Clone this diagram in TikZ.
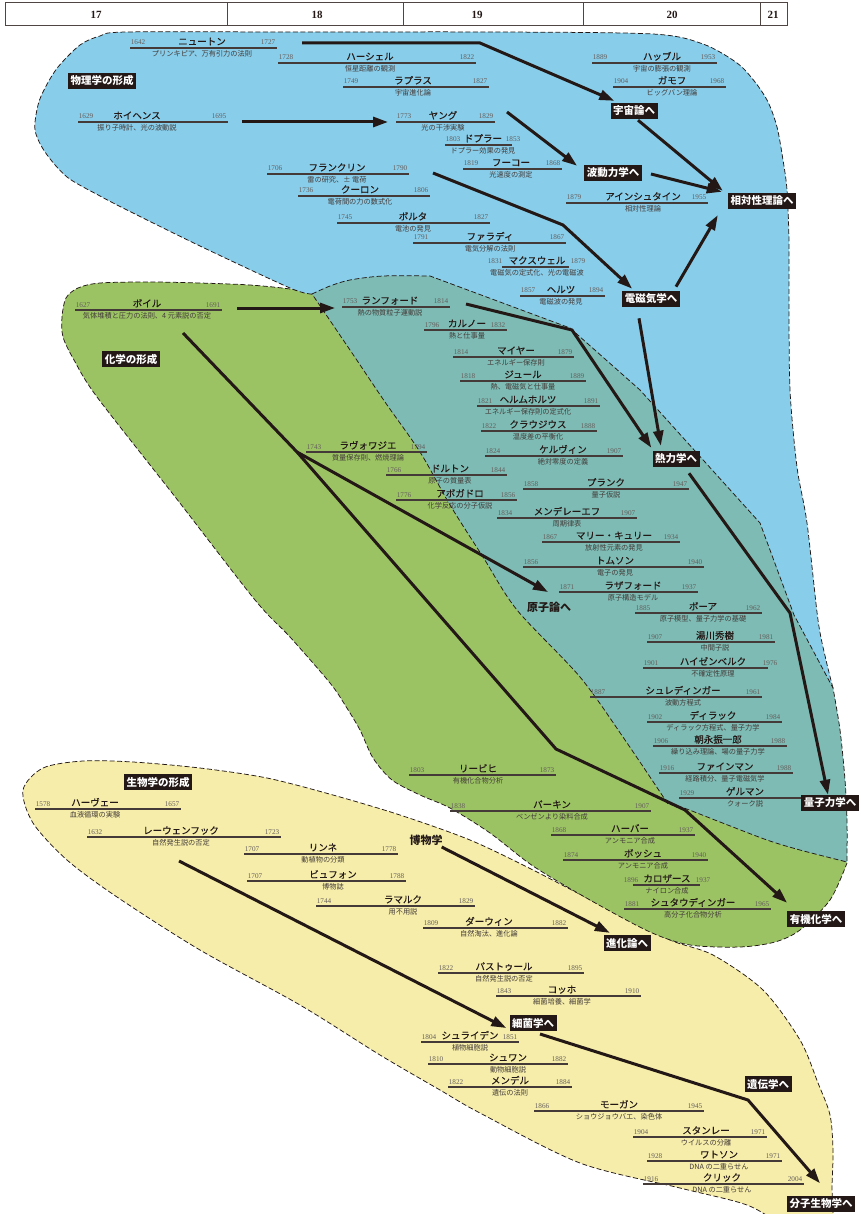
\documentclass[tikz,border=0pt]{standalone}
\usepackage{fontspec}
\usetikzlibrary{arrows.meta,calc}
\newfontfamily\jpfont{Noto Sans CJK JP}
\newfontfamily\jpname[FakeBold=0.3]{Noto Sans CJK JP}
\newfontfamily\yrfont{Liberation Serif}
\definecolor{ink}{HTML}{231815}
\definecolor{cblue}{HTML}{88CDEA}
\definecolor{cgreen}{HTML}{9BC364}
\definecolor{cteal}{HTML}{7DBBB4}
\definecolor{cyel}{HTML}{F5EDA9}
\tikzset{
  uline/.style={draw=ink!85, line width=1.2pt},
  nm/.style={anchor=base, inner sep=0pt, text=ink, font=\jpname\fontsize{9.5}{10}\selectfont},
  ds/.style={anchor=base, inner sep=0pt, text=ink!85, font=\jpfont\fontsize{7.2}{8}\selectfont},
  yr/.style={anchor=base, inner sep=0pt, text=ink!70, font=\yrfont\fontsize{7.2}{8}\selectfont},
  lbl/.style={fill=ink, text=white, inner xsep=2.5pt, inner ysep=3pt, font=\jpfont\bfseries\fontsize{10.5}{11}\selectfont},
  plainbold/.style={inner sep=0pt, text=ink, font=\jpfont\bfseries\fontsize{11}{12}\selectfont},
  bnd/.style={draw=ink, line width=0.75pt, dash pattern=on 5pt off 2.5pt},
  arr/.style={draw=ink, line width=3pt, -{Triangle[length=15pt,width=10pt]}},
  hdr/.style={draw=ink!80, line width=1pt},
  hdrtxt/.style={inner sep=0pt, text=ink, font=\yrfont\bfseries\fontsize{11}{12}\selectfont},
}
% #1 id, #2 x1, #3 x2, #4 y, #5 name x, #6 name, #7 note, #8 born, #9 died
\newcommand{\lifeline}[9]{%
  \draw[uline] (#2,#4) coordinate (#1-l) -- (#3,#4) coordinate (#1-r);
  \node[nm] (#1) at (#5,#4-3) {#6};
  \node[ds] (#1-d) at (#5,#4+8.8) {#7};
  \node[yr] (#1-b) at (#2+8,#4-3) {#8};
  \node[yr] (#1-e) at (#3-9,#4-3) {#9};
}
\begin{document}
\begin{tikzpicture}[x=1pt,y=-1pt]
\useasboundingbox (0,0) rectangle (861,1214);

% ---------- century header ----------
\draw[hdr] (5,3) rectangle (787,26);
\foreach \cx in {227,403,583,760} \draw[hdr] (\cx,3) -- (\cx,26);
\node[hdrtxt] (c17) at (96,14.5) {17};
\node[hdrtxt] (c18) at (317,14.5) {18};
\node[hdrtxt] (c19) at (477,14.5) {19};
\node[hdrtxt] (c20) at (672,14.5) {20};
\node[hdrtxt] (c21) at (773,14.5) {21};

% ---------- biology region ----------
\path[fill=cyel] plot[smooth cycle] coordinates {(23,790) (43,768) (83,761) (133,762) (200,768) (267,778) (333,795) (400,815) (470,840) (533,870) (610,910) (670,940) (713,955) (763,990) (800,1040) (818,1083) (830,1115) (833,1150) (832,1185) (830,1230) (790,1228) (747,1205) (680,1188) (580,1163) (480,1113) (440,1090) (380,1055) (300,1005) (200,950) (117,897) (67,860) (33,823)};
\path[bnd] plot[smooth cycle] coordinates {(23,790) (43,768) (83,761) (133,762) (200,768) (267,778) (333,795) (400,815) (470,840) (533,870) (610,910) (670,940) (713,955) (763,990) (800,1040) (818,1083) (830,1115) (833,1150) (832,1185) (830,1230) (790,1228) (747,1205) (680,1188) (580,1163) (480,1113) (440,1090) (380,1055) (300,1005) (200,950) (117,897) (67,860) (33,823)};

% ---------- chemistry region ----------
\path[fill=cgreen] plot[smooth] coordinates {(312,294) (290,289) (250,285) (200,283) (150,282) (100,283) (78,288) (66,298) (62,317) (63,337) (74,360) (97,397) (176,498) (255,600) (290,637) (330,683) (345,705) (360,730) (373,758) (392,780) (420,795) (450,808) (490,833) (533,866) (590,900) (650,932) (690,945) (740,947) (775,942) (800,930) (830,900) (847,863)} -- (838,852) -- (800,790) -- (650,640) -- (330,306) -- cycle;
\path[bnd] plot[smooth] coordinates {(312,294) (290,289) (250,285) (200,283) (150,282) (100,283) (78,288) (66,298) (62,317) (63,337) (74,360) (97,397) (176,498) (255,600) (290,637) (330,683) (345,705) (360,730) (373,758) (392,780) (420,795) (450,808) (490,833) (533,866) (590,900) (650,932) (690,945) (740,947) (775,942) (800,930) (830,900) (847,863)};

% ---------- physics region ----------
\path[fill=cblue] plot[smooth] coordinates {(312,294) (290,288) (200,246) (127,210) (100,196) (67,177) (45,152) (35,130) (38,105) (45,88) (58,67) (80,45) (100,36) (127,32) (300,32) (500,32) (653,34) (703,44) (737,63) (755,82) (768,102) (777,127) (783,160) (787,190) (789,240) (789,300) (790,390) (797,467) (807,523) (818,620) (826,660) (833,688)} -- (815,690) -- (700,560) -- (600,380) -- (450,300) -- (330,302) -- cycle;
\path[bnd] plot[smooth] coordinates {(312,294) (290,288) (200,246) (127,210) (100,196) (67,177) (45,152) (35,130) (38,105) (45,88) (58,67) (80,45) (100,36) (127,32) (300,32) (500,32) (653,34) (703,44) (737,63) (755,82) (768,102) (777,127) (783,160) (787,190) (789,240) (789,300) (790,390) (797,467) (807,523) (818,620) (826,660) (833,688)};

% ---------- overlap of physics and chemistry ----------
\path[fill=cteal, bnd] plot[smooth] coordinates {(312,294) (330,286) (350,280) (383,276) (430,276)} -- (570,328) -- (640,390) -- (760,523) -- (794,615) -- plot[smooth] coordinates {(833,688) (840,730) (845,780) (847,820) (847,862)} -- plot[smooth] coordinates {(847,862) (800,850) (767,840) (720,822) (684,808) (668,804)} -- plot[smooth] coordinates {(668,804) (625,740) (580,677) (517,610) (483,557) (450,505) (420,452) (385,402) (350,350) (312,294)} -- cycle;

% ---------- physics ----------
\lifeline{newton}{130}{277}{48}{202}{ニュートン}{プリンキピア、万有引力の法則}{1642}{1727}
\lifeline{herschel}{278}{476}{63}{370}{ハーシェル}{恒星距離の観測}{1728}{1822}
\lifeline{laplace}{343}{489}{87}{413}{ラプラス}{宇宙進化論}{1749}{1827}
\lifeline{huygens}{78}{228}{122}{137}{ホイヘンス}{振り子時計、光の波動説}{1629}{1695}
\lifeline{young}{396}{495}{122}{443}{ヤング}{光の干渉実験}{1773}{1829}
\lifeline{doppler}{445}{512}{145}{483}{ドプラー}{ドプラー効果の発見}{1803}{}
\node[yr] (doppler-e2) at (513,142) {1853};
\lifeline{foucault}{463}{562}{169}{511}{フーコー}{光速度の測定}{1819}{1868}
\lifeline{franklin}{267}{409}{174}{337}{フランクリン}{雷の研究、± 電荷}{1706}{1790}
\lifeline{coulomb}{298}{430}{196}{360}{クーロン}{電荷間の力の数式化}{1736}{1806}
\lifeline{volta}{337}{490}{223}{413}{ボルタ}{電池の発見}{1745}{1827}
\lifeline{faraday}{413}{566}{243}{490}{ファラディ}{電気分解の法則}{1791}{1867}
\lifeline{maxwell}{502}{569}{267}{537}{マクスウェル}{電磁気の定式化、光の電磁波}{}{}
\node[yr] (maxwell-b2) at (495,264) {1831};
\node[yr] (maxwell-e2) at (578,264) {1879};
\lifeline{hertz}{520}{605}{296}{561}{ヘルツ}{電磁波の発見}{1857}{1894}
\lifeline{hubble}{592}{717}{63}{662}{ハッブル}{宇宙の膨張の観測}{1889}{1953}
\lifeline{gamow}{613}{726}{87}{672}{ガモフ}{ビッグバン理論}{1904}{1968}
\lifeline{einstein}{566}{708}{203}{643}{アインシュタイン}{相対性理論}{1879}{1955}

% ---------- chemistry, thermodynamics, quantum ----------
\lifeline{boyle}{75}{222}{310}{147}{ボイル}{気体堆積と圧力の法則、4 元素説の否定}{1627}{1691}
\lifeline{rumford}{342}{450}{307}{390}{ランフォード}{熱の物質粒子運動説}{1753}{1814}
\lifeline{carnot}{424}{507}{330}{467}{カルノー}{熱と仕事量}{1796}{1832}
\lifeline{mayer}{453}{574}{357}{516}{マイヤー}{エネルギー保存則}{1814}{1879}
\lifeline{joule}{460}{586}{381}{523}{ジュール}{熱、電磁気と仕事量}{1818}{1889}
\lifeline{helmholtz}{477}{600}{406}{528}{ヘルムホルツ}{エネルギー保存則の定式化}{1821}{1891}
\lifeline{clausius}{481}{597}{431}{538}{クラウジウス}{温度差の平衡化}{1822}{1888}
\lifeline{kelvin}{485}{623}{456}{563}{ケルヴィン}{絶対零度の定義}{1824}{1907}
\lifeline{planck}{523}{689}{489}{606}{プランク}{量子仮説}{1858}{1947}
\lifeline{mendeleev}{497}{637}{518}{567}{メンデレーエフ}{周期律表}{1834}{1907}
\lifeline{curie}{542}{680}{542}{614}{マリー・キュリー}{放射性元素の発見}{1867}{1934}
\lifeline{thomson}{523}{704}{567}{615}{トムソン}{電子の発見}{1856}{1940}
\lifeline{rutherford}{559}{698}{592}{633}{ラザフォード}{原子構造モデル}{1871}{1937}
\lifeline{bohr}{635}{762}{613}{703}{ボーア}{原子模型、量子力学の基礎}{1885}{1962}
\lifeline{yukawa}{647}{775}{642}{715}{湯川秀樹}{中間子説}{1907}{1981}
\lifeline{heisenberg}{643}{768}{668}{713}{ハイゼンベルク}{不確定性原理}{1901}{}
\node[yr] (heisenberg-e2) at (770,665) {1976};
\lifeline{schrodinger}{590}{762}{697}{683}{シュレディンガー}{波動方程式}{1887}{1961}
\lifeline{dirac}{647}{782}{722}{713}{ディラック}{ディラック方程式、量子力学}{1902}{1984}
\lifeline{tomonaga}{653}{787}{746}{718}{朝永振一郎}{繰り込み理論、場の量子力学}{1906}{1988}
\lifeline{feynman}{659}{793}{773}{725}{ファインマン}{経路積分、量子電磁気学}{1916}{1988}
\lifeline{gellmann}{679}{802}{798}{745}{ゲルマン}{クォーク説}{1929}{}
\lifeline{lavoisier}{306}{427}{452}{368}{ラヴォワジエ}{質量保存則、燃焼理論}{1743}{1794}
\lifeline{dalton}{386}{507}{475}{450}{ドルトン}{原子の質量表}{1766}{1844}
\lifeline{avogadro}{396}{517}{500}{460}{アボガドロ}{化学反応の分子仮説}{1776}{1856}
\lifeline{liebig}{409}{556}{775}{478}{リービヒ}{有機化合物分析}{1803}{1873}
\lifeline{perkin}{450}{651}{811}{552}{パーキン}{ベンゼンより染料合成}{1838}{1907}
\lifeline{haber}{551}{695}{835}{630}{ハーバー}{アンモニア合成}{1868}{1937}
\lifeline{bosch}{563}{708}{860}{643}{ボッシュ}{アンモニア合成}{1874}{1940}
\lifeline{carothers}{633}{700}{885}{667}{カロザース}{ナイロン合成}{}{}
\node[yr] (carothers-b2) at (631,882) {1896};
\node[yr] (carothers-e2) at (703,882) {1937};
\lifeline{staudinger}{624}{771}{909}{693}{シュタウディンガー}{高分子化合物分析}{1881}{1965}

% ---------- biology ----------
\lifeline{harvey}{35}{181}{809}{95}{ハーヴェー}{血液循環の実験}{1578}{1657}
\lifeline{leeuwenhoek}{87}{281}{837}{181}{レーウェンフック}{自然発生説の否定}{1632}{1723}
\lifeline{linne}{244}{398}{854}{323}{リンネ}{動植物の分類}{1707}{1778}
\lifeline{buffon}{247}{406}{881}{333}{ビュフォン}{博物誌}{1707}{1788}
\lifeline{lamarck}{316}{475}{906}{403}{ラマルク}{用不用説}{1744}{1829}
\lifeline{darwin}{423}{568}{928}{489}{ダーウィン}{自然淘汰、進化論}{1809}{1882}
\lifeline{pasteur}{438}{584}{973}{504}{パストゥール}{自然発生説の否定}{1822}{1895}
\lifeline{koch}{496}{641}{996}{562}{コッホ}{細菌培養、細菌学}{1843}{1910}
\lifeline{schleiden}{421}{519}{1042}{470}{シュライデン}{植物細胞説}{1804}{1851}
\lifeline{schwann}{428}{568}{1064}{508}{シュワン}{動物細胞説}{1810}{1882}
\lifeline{mendel}{448}{572}{1087}{510}{メンデル}{遺伝の法則}{1822}{1884}
\lifeline{morgan}{534}{704}{1111}{619}{モーガン}{ショウジョウバエ、染色体}{1866}{1945}
\lifeline{stanley}{633}{767}{1137}{706}{スタンレー}{ウイルスの分離}{1904}{1971}
\lifeline{watson}{647}{782}{1161}{719}{ワトソン}{DNA の二重らせん}{1928}{1971}
\lifeline{crick}{643}{804}{1184}{722}{クリック}{DNA の二重らせん}{1916}{2004}

% ---------- field labels ----------
\node[lbl] (phys) at (102,81) {物理学の形成};
\node[lbl] (chem) at (131,359) {化学の形成};
\node[lbl] (bio) at (158,782) {生物学の形成};
\node[lbl] (uchu) at (634,111) {宇宙論へ};
\node[lbl] (hado) at (613,173) {波動力学へ};
\node[lbl] (sotai) at (762,201) {相対性理論へ};
\node[lbl] (denji) at (651,299) {電磁気学へ};
\node[lbl] (netsu) at (676,459) {熱力学へ};
\node[lbl] (ryoshi) at (830,803) {量子力学へ};
\node[lbl] (yuki) at (816,919) {有機化学へ};
\node[lbl] (shinka) at (627,943) {進化論へ};
\node[lbl] (saikin) at (533,1023) {細菌学へ};
\node[lbl] (iden) at (768,1084) {遺伝学へ};
\node[lbl] (bunshi) at (821,1204) {分子生物学へ};
\node[plainbold] (genshi) at (549,607) {原子論へ};
\node[plainbold] (hakubutsu) at (426,840) {博物学};

% ---------- lines of influence ----------
\coordinate (newton-t) at (302,43);
\coordinate (newton-k) at (480,43);
\draw[arr] (newton-t) -- (newton-k) -- ([shift={(4,-2)}]uchu.north west);
\draw[arr] ([shift={(14,0)}]huygens-r) -- ([shift={(-8,0)}]young-l);
\draw[arr] ([shift={(12,-10)}]young-r) -- ([shift={(-7,1)}]hado.north west);
\draw[arr] ([shift={(4,1)}]uchu.south) -- ([shift={(-5,-2)}]sotai.north west);
\draw[arr] ([shift={(9,1)}]hado.east) -- ([shift={(-6,-1)}]sotai.north west);
\coordinate (franklin-k) at (563,225);
\draw[arr] ([shift={(24,-1)}]franklin-r) -- (franklin-k) -- ([shift={(10,-2)}]denji.north west);
\draw[arr] ([shift={(25,-4)}]denji.north) -- ([shift={(-10,6)}]sotai.south west);
\draw[arr] ([shift={(-12,11)}]denji.south) -- ([shift={(8.5,-5)}]netsu.north west);
\coordinate (rumford-k) at (572,330);
\draw[arr] ([shift={(16,-3)}]rumford-r) -- (rumford-k) -- ([shift={(-1,-3)}]netsu.north west);
\coordinate (netsu-k) at (790,613);
\draw[arr] ([shift={(13,6)}]netsu.south) -- (netsu-k) -- ([shift={(-2,0)}]ryoshi.north);
\draw[arr] ([shift={(15,-2)}]boyle-r) -- ([shift={(-7,1)}]rumford-l);
\coordinate (boyle-t) at (183,333);
\coordinate (fork) at (297,452);
\coordinate (boyle-k1) at (556,749);
\coordinate (boyle-k2) at (685,810);
\draw[arr] (boyle-t) -- (fork) -- (boyle-k1) -- (boyle-k2) -- ([shift={(0,-8)}]yuki.north west);
\draw[arr] (fork) -- ([shift={(-1,-9.5)}]genshi.north);
\draw[arr] ([shift={(-1,7)}]hakubutsu.east) -- ([shift={(6.5,-2)}]shinka.north west);
\coordinate (leeuwenhoek-t) at (179,861);
\draw[arr] (leeuwenhoek-t) -- ([shift={(-3,5)}]saikin.west);
\coordinate (schleiden-k) at (748,1100);
\draw[arr] ([shift={(21,-8)}]schleiden-r) -- (schleiden-k) -- ([shift={(-1,-12.5)}]bunshi.north);
\end{tikzpicture}
\end{document}
